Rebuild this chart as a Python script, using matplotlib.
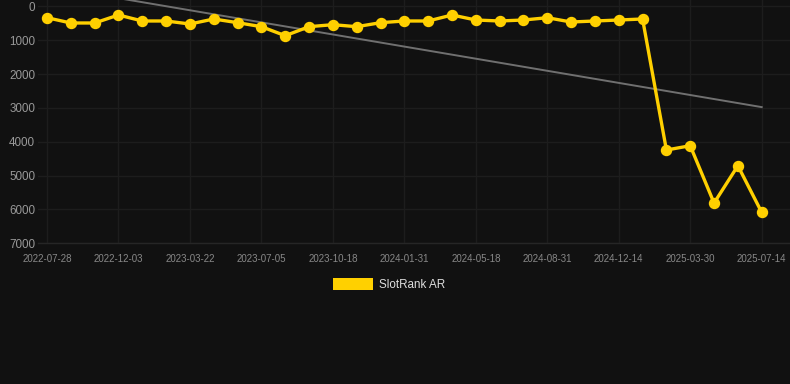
import numpy as np
import matplotlib
matplotlib.use("Agg")
import matplotlib.pyplot as plt
from matplotlib.patches import Rectangle

plt.rcParams['font.family'] = ['Liberation Sans', 'DejaVu Sans']

dates = [
    "2022-07-28", "2022-09-09", "2022-10-22",
    "2022-12-03", "2023-01-08", "2023-02-13",
    "2023-03-22", "2023-04-26", "2023-05-31",
    "2023-07-05", "2023-08-09", "2023-09-13",
    "2023-10-18", "2023-11-22", "2023-12-27",
    "2024-01-31", "2024-03-06", "2024-04-12",
    "2024-05-18", "2024-06-22", "2024-07-27",
    "2024-08-31", "2024-10-05", "2024-11-09",
    "2024-12-14", "2025-01-18", "2025-02-22",
    "2025-03-30", "2025-05-04", "2025-06-08",
    "2025-07-14",
]
ranks = [
    337, 493, 493, 257, 434, 434, 523, 375, 484, 602,
    868, 602, 543, 602, 484, 434, 434, 257, 405, 434,
    405, 337, 464, 434, 405, 375, 4245, 4118, 5811, 4709,
    6086,
]
tick_labels = dates[::3]
y_ticks = [0, 1000, 2000, 3000, 4000, 5000, 6000, 7000]
series_name = "SlotRank AR"

BG = "#111111"
YEL = "#FFD000"
GRID = "#1d1d1d"

fig = plt.figure(figsize=(7.9, 3.84), dpi=100, facecolor=BG)
W, H = 790, 384
ax_left, ax_right = 38, 790
ax_top, ax_bot = 0, 243.3
ax = fig.add_axes([ax_left / W, 1 - ax_bot / H, (ax_right - ax_left) / W, (ax_bot - ax_top) / H])
ax.set_facecolor(BG)

x = np.arange(len(ranks))
px_per = (761.7 - 47) / (len(ranks) - 1)
ax.set_xlim(-(47 - ax_left) / px_per, (len(ranks) - 1) + (ax_right - 761.7) / px_per)
ax.set_ylim(7000, -186)

# trend line (linear regression)
coef = np.polyfit(x, ranks, 1)
ax.plot(x, np.polyval(coef, x), color="#707070", lw=1.4, zorder=2)

ax.plot(x, ranks, color=YEL, lw=2.4, marker="o", markersize=7.2,
        markerfacecolor=YEL, markeredgecolor=YEL, zorder=3)

ax.set_xticks(x[::3])
ax.set_xticklabels(tick_labels)
ax.set_yticks(y_ticks)
ax.set_yticklabels([str(v) for v in y_ticks])
ax.tick_params(axis="x", colors="#888888", labelsize=7, length=0, pad=8)
ax.tick_params(axis="y", colors="#999999", labelsize=8.4, length=0, pad=2)
for lab in ax.get_xticklabels():
    lab.set_color("#888888")
for lab in ax.get_yticklabels():
    lab.set_color("#999999")

ax.grid(True, color=GRID, lw=1)
for s in ["top", "right", "left"]:
    ax.spines[s].set_visible(False)
ax.spines["bottom"].set_color("#262626")
ax.spines["bottom"].set_linewidth(1)

# legend
fig.patches.append(Rectangle((333 / W, 1 - 289.7 / H), 40 / W, 11.4 / H,
                             transform=fig.transFigure, facecolor=YEL, edgecolor="none"))
fig.text(379 / W, 1 - 285 / H, series_name, color="#dddddd", fontsize=8.4,
         va="center", ha="left")

fig.savefig("out.png", dpi=100, facecolor=BG)
